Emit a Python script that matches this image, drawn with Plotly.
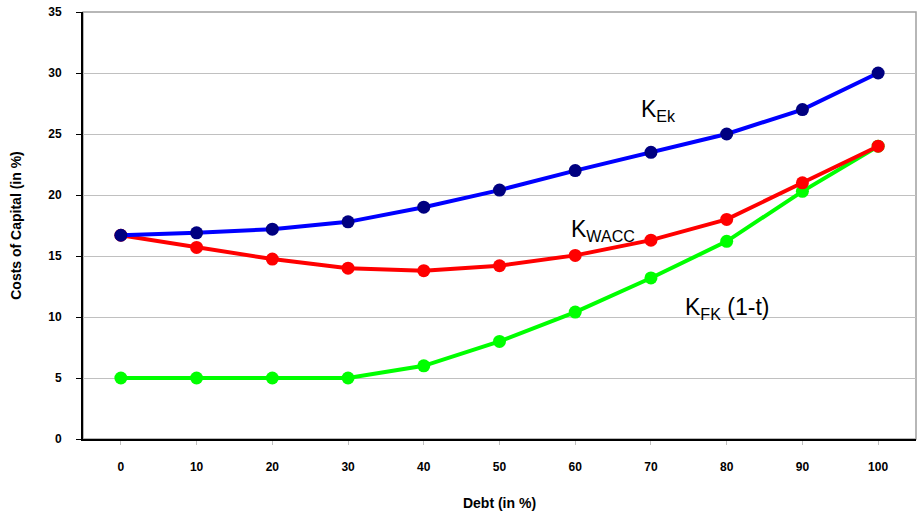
import plotly.graph_objects as go

debt = ["0", "10", "20", "30", "40", "50", "60", "70", "80", "90", "100"]
k_ek = [16.7, 16.9, 17.2, 17.8, 19.0, 20.4, 22.0, 23.5, 25.0, 27.0, 30.0]
k_wacc = [16.7, 15.7, 14.75, 14.0, 13.8, 14.2, 15.05, 16.3, 18.0, 21.0, 24.0]
k_fk = [5.0, 5.0, 5.0, 5.0, 6.0, 8.0, 10.4, 13.2, 16.2, 20.3, 24.0]

FONT = "Liberation Sans, Arial, sans-serif"

fig = go.Figure()
fig.add_trace(go.Scatter(x=debt, y=k_fk, mode="lines+markers",
                         line=dict(color="#00FF00", width=4),
                         marker=dict(color="#00FF00", size=13)))
fig.add_trace(go.Scatter(x=debt, y=k_wacc, mode="lines+markers",
                         line=dict(color="#FF0000", width=4),
                         marker=dict(color="#FF0000", size=13)))
fig.add_trace(go.Scatter(x=debt, y=k_ek, mode="lines+markers",
                         line=dict(color="#0000FF", width=4),
                         marker=dict(color="#000080", size=13)))

fig.add_shape(type="rect", xref="paper", yref="paper", x0=0, x1=1, y0=0, y1=1,
              line=dict(color="#A0A0A0", width=1.5), layer="below")

ann_font = dict(family=FONT, size=23, color="black")
fig.add_annotation(x=0.668, y=26.9, xref="paper", yref="y", text="K<sub>Ek</sub>",
                   showarrow=False, xanchor="left", yanchor="middle", font=ann_font)
fig.add_annotation(x=0.584, y=17.1, xref="paper", yref="y", text="K<sub>WACC</sub>",
                   showarrow=False, xanchor="left", yanchor="middle", font=ann_font)
fig.add_annotation(x=0.72, y=10.7, xref="paper", yref="y", text="K<sub>FK</sub> (1-t)",
                   showarrow=False, xanchor="left", yanchor="middle", font=ann_font)

fig.update_layout(
    width=921, height=515,
    margin=dict(l=83, r=5, t=12, b=76),
    paper_bgcolor="white", plot_bgcolor="white",
    showlegend=False,
    font=dict(family=FONT, color="black"),
    xaxis=dict(type="category", range=[-0.5, 10.5], automargin=False,
               showline=True, linecolor="black", linewidth=2,
               showgrid=False, ticks="outside", ticklen=4, tickcolor="#C0C0C0",
               tickfont=dict(family=FONT, size=12, weight="bold"),
               ticklabelstandoff=12,
               title=dict(text="<b>Debt (in %)</b>", font=dict(family=FONT, size=14), standoff=25)),
    yaxis=dict(range=[0, 35], dtick=5, tick0=0, automargin=False,
               showline=True, linecolor="black", linewidth=2,
               showgrid=True, gridcolor="#C0C0C0", gridwidth=1,
               zeroline=False,
               ticks="outside", ticklen=5, tickcolor="black",
               tickfont=dict(family=FONT, size=12, weight="bold"),
               ticklabelstandoff=12, ticklabeloverflow="allow",
               title=dict(text="<b>Costs of Capital (in %)</b>", font=dict(family=FONT, size=14), standoff=23)),
)

fig.write_html("out.html", config={"displayModeBar": False},
               post_script="document.body.style.margin='0';")
